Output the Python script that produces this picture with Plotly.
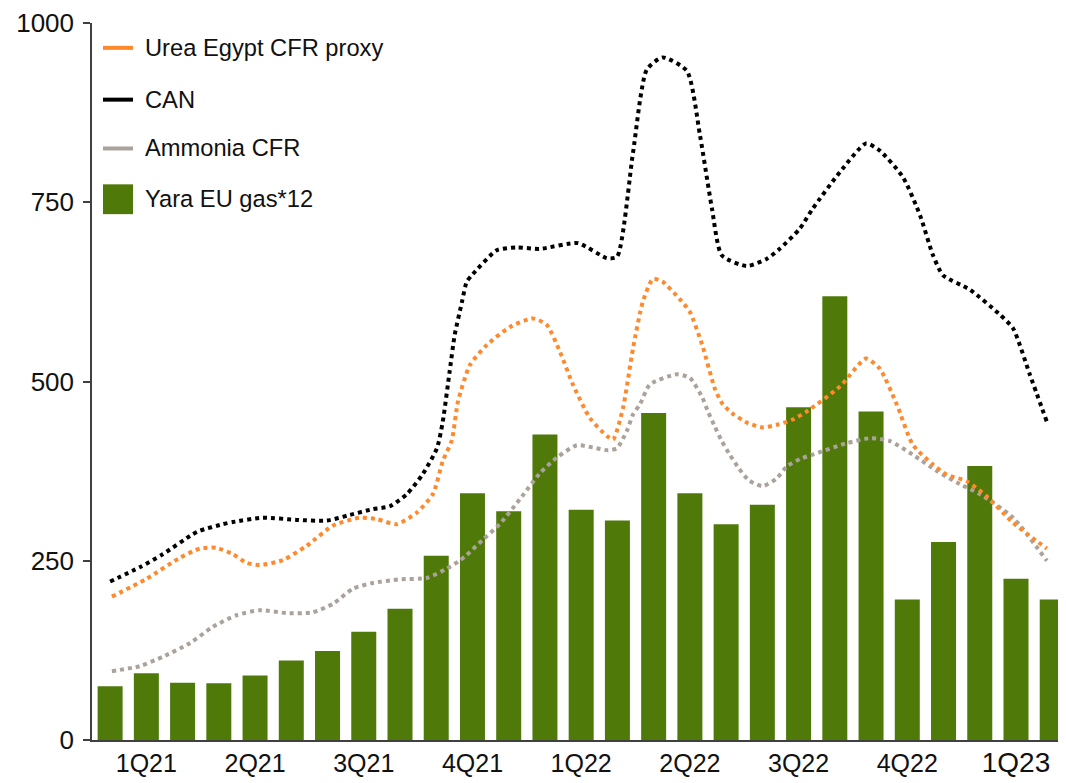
import plotly.graph_objects as go

# ---------------- data ----------------
months = ["Jan-21", "Feb-21", "Mar-21", "Apr-21", "May-21", "Jun-21", "Jul-21", "Aug-21", "Sep-21",
          "Oct-21", "Nov-21", "Dec-21", "Jan-22", "Feb-22", "Mar-22", "Apr-22", "May-22", "Jun-22",
          "Jul-22", "Aug-22", "Sep-22", "Oct-22", "Nov-22", "Dec-22", "Jan-23", "Feb-23", "Mar-23"]
yara_gas = [75, 93, 80, 79, 90, 111, 124, 151, 183, 257, 344, 319, 426, 321, 306, 456, 344, 301,
            328, 464, 619, 458, 196, 276, 382, 225, 196]

quarter_labels = ["1Q21", "2Q21", "3Q21", "4Q21", "1Q22", "2Q22", "3Q22", "4Q22", "1Q23"]

# line series: time in months since Jan-21, value
can_t = [0.00, 0.82, 1.45, 2.28, 2.48, 3.11, 3.39, 4.21, 5.15, 5.98, 6.62, 7.25, 7.72, 8.19, 8.63,
         9.02, 9.18, 9.37, 9.51, 9.71, 9.84, 9.98, 10.67, 11.22, 11.86, 12.91, 13.71, 13.99, 14.43,
         14.81, 15.25, 15.92, 16.28, 16.61, 16.88, 17.57, 18.12, 18.48, 19.03, 19.39, 20.14, 20.86,
         21.24, 21.88, 22.35, 22.71, 22.99, 23.73, 24.56, 24.92, 25.38, 25.85]
can_v = [221, 241, 259, 287, 292, 301, 304, 310, 307, 306, 314, 322, 326, 343, 371,
         407, 444, 514, 565, 611, 639, 648, 683, 687, 685, 693, 672, 674, 819,
         935, 952, 933, 843, 741, 676, 661, 671, 685, 713, 741, 792, 832,
         822, 785, 732, 676, 648, 628, 593, 574, 510, 444]

urea_t = [0.05, 1.01, 1.92, 2.48, 2.94, 3.39, 3.77, 4.13, 4.77, 5.43, 6.15, 6.89, 7.36, 7.91, 8.46,
          8.91, 9.18, 9.43, 9.60, 9.93, 10.40, 11.03, 11.67, 12.05, 12.41, 12.77, 13.24, 13.71,
          13.88, 14.15, 14.43, 14.70, 14.98, 15.25, 15.72, 16.00, 16.34, 16.69, 16.91, 17.21,
          17.60, 18.01, 18.43, 18.84, 19.22, 20.14, 20.86, 21.24, 21.71, 22.15, 22.71, 23.09,
          23.64, 24.19, 24.92, 25.85]
urea_v = [200, 225, 254, 267, 268, 259, 247, 244, 251, 271, 299, 310, 308, 301, 317,
          343, 389, 418, 472, 523, 551, 576, 588, 579, 542, 496, 449, 424,
          419, 462, 546, 611, 643, 639, 615, 597, 551, 490, 468, 454,
          442, 436, 440, 447, 458, 493, 532, 518, 468, 412, 384, 370,
          361, 340, 303, 267]

ammonia_t = [0.05, 0.82, 1.45, 2.20, 2.84, 3.49, 4.13, 4.87, 5.59, 6.15, 6.70, 7.25, 7.99, 8.74,
             9.29, 9.64, 9.84, 10.28, 10.75, 11.31, 11.86, 12.33, 12.88, 13.32, 13.74, 13.99,
             14.26, 14.43, 14.62, 14.90, 15.64, 16.00, 16.34, 16.50, 16.69, 16.88, 17.10, 17.35,
             17.63, 18.01, 18.40, 18.68, 19.09, 19.39, 20.33, 20.99, 21.52, 22.15, 22.82, 23.45,
             24.00, 24.92, 25.85]
ammonia_v = [96, 103, 116, 135, 158, 174, 181, 177, 178, 190, 211, 219, 224, 226,
             239, 250, 258, 279, 301, 336, 372, 394, 411, 408, 404, 407,
             431, 454, 468, 496, 510, 505, 478, 458, 437, 417, 398, 379,
             362, 354, 365, 382, 393, 398, 414, 421, 417, 398, 375, 357,
             343, 310, 250]

# ---------------- styling ----------------
FONT = "Arial, 'Liberation Sans', sans-serif"
GREEN = "#4F7A0A"
ORANGE = "#FF8A2E"
GRAY = "#ABA39B"
BLACK = "#000000"
AXIS = "#404040"

month_pos = list(range(len(months)))
quarter_pos = [3 * i + 1 for i in range(len(quarter_labels))]
tick_text = quarter_labels[:-1] + ['<span style="font-size:28px;">' + quarter_labels[-1] + '</span>']

fig = go.Figure()
fig.add_trace(go.Bar(x=month_pos, y=yara_gas, marker_color=GREEN, marker_line_width=0,
                     name="Yara EU gas*12", showlegend=False))
fig.add_trace(go.Scatter(x=ammonia_t, y=ammonia_v, mode="lines", name="Ammonia CFR",
                         line=dict(color=GRAY, width=4, dash="dot", shape="spline", smoothing=0.6),
                         showlegend=False))
fig.add_trace(go.Scatter(x=urea_t, y=urea_v, mode="lines", name="Urea Egypt CFR proxy",
                         line=dict(color=ORANGE, width=4, dash="dot", shape="spline", smoothing=0.6),
                         showlegend=False))
fig.add_trace(go.Scatter(x=can_t, y=can_v, mode="lines", name="CAN",
                         line=dict(color=BLACK, width=4, dash="dot", shape="spline", smoothing=0.6),
                         showlegend=False))

# manual legend (paper coordinates)
legend_items = [("Urea Egypt CFR proxy", ORANGE, "line", 0.9653),
                ("CAN", BLACK, "line", 0.8931),
                ("Ammonia CFR", GRAY, "line", 0.8250),
                ("Yara EU gas*12", GREEN, "box", 0.7542)]
shapes = []
annotations = []
for label, color, kind, yy in legend_items:
    if kind == "line":
        shapes.append(dict(type="line", xref="paper", yref="paper", x0=0.0113, x1=0.0421,
                           y0=yy, y1=yy, line=dict(color=color, width=4)))
    else:
        shapes.append(dict(type="rect", xref="paper", yref="paper", x0=0.0113, x1=0.0421,
                           y0=yy - 0.0208, y1=yy + 0.0208, fillcolor=color, line=dict(width=0)))
    annotations.append(dict(text=label, xref="paper", yref="paper", x=0.0524, y=yy,
                            xanchor="left", yanchor="middle", showarrow=False,
                            font=dict(family=FONT, size=23.7, color="#111111")))

# page body has an 8px margin, so the figure is sized to fit the 1066x783 window
fig.update_layout(
    width=1058, height=775,
    margin=dict(l=84, r=0, t=12, b=43),
    paper_bgcolor="white", plot_bgcolor="white",
    bargap=0.31,
    showlegend=False,
    shapes=shapes, annotations=annotations,
    font=dict(family=FONT, color="#111111"),
)
fig.update_xaxes(range=[-0.5, 26.38], tickmode="array", tickvals=quarter_pos, ticktext=tick_text,
                 ticks="", showgrid=False, zeroline=False, showline=True, linecolor=AXIS, linewidth=1.5,
                 ticklabeloverflow="allow",
                 tickfont=dict(family=FONT, size=25, color="#111111"))
fig.update_yaxes(range=[0, 1000], tickmode="array", tickvals=[0, 250, 500, 750, 1000],
                 ticks="outside", ticklen=7, tickcolor=AXIS, tickwidth=1.5, ticklabelstandoff=4,
                 ticklabeloverflow="allow",
                 showgrid=False, zeroline=False, showline=True, linecolor=AXIS, linewidth=1.5,
                 tickfont=dict(family=FONT, size=26, color="#111111"))

fig.write_html("out.html")
